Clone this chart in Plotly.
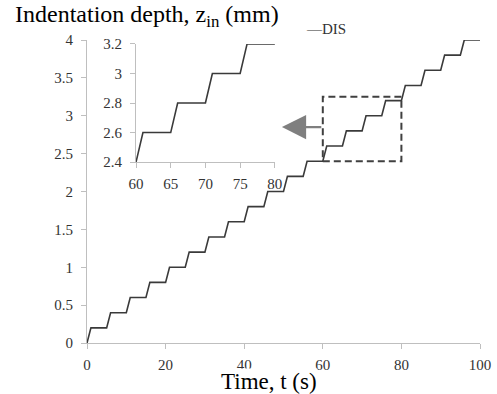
import plotly.graph_objects as go

# Staircase indentation history
time_s = [0, 1, 5, 6, 10, 11, 15, 16, 20, 21, 25, 26, 30, 31, 35, 36, 40, 41, 45, 46,
          50, 51, 55, 56, 60, 61, 65, 66, 70, 71, 75, 76, 80, 81, 85, 86, 90, 91, 95, 96, 100]
depth_mm = [0.0, 0.2, 0.2, 0.4, 0.4, 0.6, 0.6, 0.8, 0.8, 1.0, 1.0, 1.2, 1.2, 1.4, 1.4, 1.6,
            1.6, 1.8, 1.8, 2.0, 2.0, 2.2, 2.2, 2.4, 2.4, 2.6, 2.6, 2.8, 2.8, 3.0, 3.0, 3.2,
            3.2, 3.4, 3.4, 3.6, 3.6, 3.8, 3.8, 4.0, 4.0]

main_x_ticks = [0, 20, 40, 60, 80, 100]
main_y_ticks = [0, 0.5, 1, 1.5, 2, 2.5, 3, 3.5, 4]
inset_x_ticks = [60, 65, 70, 75, 80]
inset_y_ticks = [2.4, 2.6, 2.8, 3.0, 3.2]

FONT = "Liberation Serif, Times New Roman, serif"
LINE = "#3a3a3a"
AXIS = "#bfbfbf"
TXT = "#333333"

fig = go.Figure()
fig.add_trace(go.Scatter(x=time_s, y=depth_mm, mode="lines", name="DIS",
                         line=dict(color=LINE, width=1.6), showlegend=False,
                         xaxis="x", yaxis="y"))
fig.add_trace(go.Scatter(x=time_s, y=depth_mm, mode="lines", name="DIS inset",
                         line=dict(color=LINE, width=1.6), showlegend=False,
                         xaxis="x2", yaxis="y2"))

axis_common = dict(showgrid=False, zeroline=False, showline=True, linecolor=AXIS,
                   linewidth=1.2, ticks="outside", tickcolor=AXIS, ticklen=5,
                   automargin=False,
                   tickfont=dict(family=FONT, size=15, color=TXT))

fig.update_layout(
    width=497, height=394,
    font=dict(family=FONT, color=TXT),
    margin=dict(l=87, r=17, t=40, b=51, autoexpand=False),
    paper_bgcolor="white", plot_bgcolor="white",
    xaxis=dict(range=[0, 100], tickvals=main_x_ticks, domain=[0, 1],
               ticklabelstandoff=3, **axis_common),
    yaxis=dict(range=[0, 4], tickvals=main_y_ticks, domain=[0, 1],
               ticklabelstandoff=5, **axis_common),
    xaxis2=dict(range=[60, 80], tickvals=inset_x_ticks, domain=[0.1247, 0.478],
                anchor="y2", ticklabelstandoff=3, **axis_common),
    yaxis2=dict(range=[2.4, 3.2], tickvals=inset_y_ticks, domain=[0.597, 0.987],
                anchor="x2", ticklabelstandoff=5, **axis_common),
    showlegend=False,
)

fig.add_shape(type="rect", xref="x", yref="y", x0=60, x1=80, y0=2.4, y1=3.25,
              line=dict(color="#404040", width=2, dash="7px,4px"))

fig.add_annotation(xref="x", yref="y", x=49.6, y=2.85, ax=60, ay=2.85,
                   axref="x", ayref="y", text="", showarrow=True,
                   arrowhead=2, arrowsize=2.2, arrowwidth=2.2, arrowcolor="#7f7f7f")

fig.add_annotation(xref="paper", yref="paper", x=-87/393, y=1 + 40/303,
                   xanchor="left", yanchor="top", xshift=13, yshift=1,
                   text="Indentation depth, z<sub>in</sub> (mm)", showarrow=False,
                   font=dict(family=FONT, size=24, color="black"))
fig.add_annotation(xref="paper", yref="paper", x=(304 - 87) / 393, y=1 + 11 / 303,
                   xanchor="left", yanchor="middle",
                   text="—DIS", showarrow=False,
                   font=dict(family=FONT, size=15, color=TXT))
fig.add_annotation(xref="paper", yref="paper", x=(269 - 87) / 393, y=-38 / 303,
                   xanchor="center", yanchor="middle", bgcolor="white", borderpad=0,
                   text="Time, t (s)", showarrow=False,
                   font=dict(family=FONT, size=23, color="black"))

fig.write_html("out.html")
